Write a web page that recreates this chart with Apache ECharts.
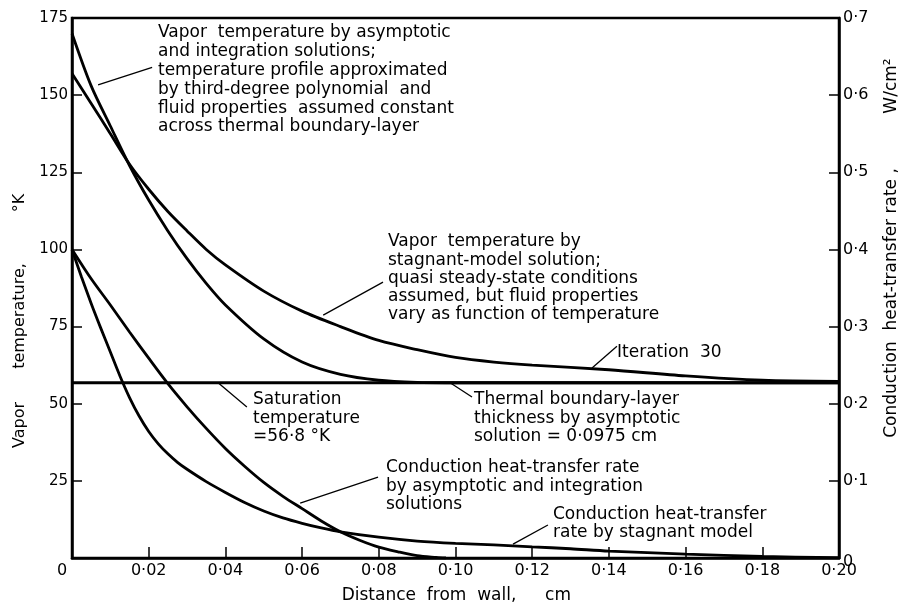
<!DOCTYPE html>
<html>
<head>
<meta charset="utf-8">
<script src="https://cdn.jsdelivr.net/npm/echarts/dist/echarts.min.js"></script>
<style>html,body{margin:0;padding:0;background:#fff}#c{width:901px;height:606px}</style>
</head>
<body>
<div id="c"></div>
<script>
// ---- data ----
// Vapor temperature, asymptotic & integration solutions (deg K)
const xA = [0,0.005,0.01,0.015,0.02,0.025,0.03,0.035,0.04,0.05,0.06,0.07,0.08,0.09,0.0975,0.2];
const tA = [170,153,140,127.2,116,106,97,89,82,71,63.5,59.5,57.6,56.9,56.8,56.8];
// Vapor temperature, stagnant-model solution (deg K)
const xB = [0,0.005,0.01,0.015,0.02,0.025,0.03,0.035,0.04,0.05,0.06,0.07,0.08,0.09,0.10,0.11,0.12,0.14,0.16,0.18,0.20];
const tB = [157,147.3,137.5,127.6,119.5,112.3,106,100,95,86.5,80,75,70.5,67.5,65,63.5,62.5,61.0,59.0,57.6,57.2];
// Saturation temperature
const xSat = [0,0.2];
const tSat = [56.8,56.8];
// Conduction heat-transfer rate, asymptotic & integration (W/cm2)
const xC = [0,0.005,0.01,0.015,0.02,0.025,0.03,0.035,0.04,0.045,0.05,0.055,0.06,0.065,0.07,0.075,0.08,0.085,0.09,0.095,0.0975];
const qC = [0.400,0.362,0.328,0.293,0.259,0.226,0.196,0.168,0.142,0.119,0.098,0.080,0.064,0.048,0.034,0.023,0.014,0.008,0.003,0.0008,0];
// Conduction heat-transfer rate, stagnant model (W/cm2)
const xD = [0,0.0025,0.005,0.0075,0.01,0.0125,0.015,0.0175,0.02,0.0225,0.025,0.0275,0.03,0.035,0.04,0.045,0.05,0.055,0.06,0.065,0.07,0.08,0.09,0.10,0.11,0.12,0.13,0.14,0.16,0.18,0.20];
const qD = [0.400,0.364,0.330,0.298,0.267,0.236,0.208,0.184,0.164,0.148,0.135,0.124,0.115,0.099,0.085,0.072,0.061,0.052,0.045,0.039,0.034,0.027,0.022,0.019,0.017,0.0145,0.012,0.009,0.005,0.002,0.0005];
// axis ticks
const xTicks = {min:0, max:0.2, interval:0.02};
const yLeftTicks = {min:0, max:175, interval:25};
const yRightTicks = {min:0, max:0.7, interval:0.1};

// annotation leader lines (data coords, left axis)
const leaders = [
  [[0.0209,159],[0.0068,153.3]],
  [[0.0811,89.4],[0.0655,78.7]],
  [[0.1421,68.6],[0.1356,61.6]],
  [[0.0456,48.9],[0.0381,56.8]],
  [[0.0986,56.8],[0.1043,52.2]],
  [[0.0798,26.2],[0.0595,17.8]],
  [[0.1241,10.7],[0.115,4.5]]
];

const zip = (xs, ys) => xs.map((x,i)=>[x, ys[i]]);
const FONT = 'DejaVu Sans';
const fmtDot = (v, d) => v.toFixed(d).replace('.', '\u00b7');

const curve = (data, yIdx) => ({
  type:'line', data, yAxisIndex:yIdx, symbol:'none', smooth:0.3,
  lineStyle:{color:'#000', width:2.8}, silent:true, z:3
});

const series = [
  curve(zip(xA,tA),0),
  curve(zip(xB,tB),0),
  Object.assign(curve(zip(xSat,tSat),0),{smooth:false}),
  curve(zip(xC,qC),1),
  curve(zip(xD,qD),1)
];
leaders.forEach(l => series.push({
  type:'line', data:l, yAxisIndex:0, symbol:'none', silent:true,
  lineStyle:{color:'#000', width:1.3}, z:2
}));

function txt(lines, x, y, lh, size) {
  size = size || 17;
  return lines.map((s,i)=>({
    type:'text', x:x, y:y + i*lh,
    style:{text:s, font:size+'px "' + FONT + '"', fill:'#000', textAlign:'left', textVerticalAlign:'middle'}
  }));
}
function rtxt(s, x, y, size) {
  return {type:'text', x:x, y:y, rotation:Math.PI/2,
    style:{text:s, font:size+'px "' + FONT + '"', fill:'#000', textAlign:'center', textVerticalAlign:'middle'}};
}
function htxt(s, x, y, size) {
  return {type:'text', x:x, y:y,
    style:{text:s, font:size+'px "' + FONT + '"', fill:'#000', textAlign:'center', textVerticalAlign:'middle'}};
}

const graphics = [].concat(
  txt(['Vapor  temperature by asymptotic','and integration solutions;','temperature profile approximated','by third-degree polynomial  and','fluid properties  assumed constant','across thermal boundary-layer'], 158, 33, 18.8),
  txt(['Vapor  temperature by','stagnant-model solution;','quasi steady-state conditions','assumed, but fluid properties','vary as function of temperature'], 388, 242, 18.2),
  txt(['Iteration  30'], 617, 353, 18),
  txt(['Saturation','temperature','=56\u00b78 \u00b0K'], 253, 400, 18.5),
  txt(['Thermal boundary-layer','thickness by asymptotic','solution = 0\u00b70975 cm'], 474, 400, 18.5),
  txt(['Conduction heat-transfer rate','by asymptotic and integration','solutions'], 386, 468, 18.5),
  txt(['Conduction heat-transfer','rate by stagnant model'], 553, 515, 17.5),
  [
    rtxt('Vapor', 20, 425, 16),
    rtxt('temperature,', 20, 316, 16),
    rtxt('\u00b0K', 20, 203, 16),
    rtxt('Conduction  heat-transfer rate ,', 892, 303, 17),
    rtxt('W/cm\u00b2', 892, 86, 17),
    htxt('Distance  from  wall,', 429, 596, 17),
    htxt('cm', 558, 596, 17)
  ]
);

const axisLine = {show:true, lineStyle:{color:'#000', width:2.5}};
const option = {
  animation:false,
  backgroundColor:'#fff',
  grid:{left:72, right:62, top:18, bottom:48, show:true, borderColor:'#000', borderWidth:2.5, backgroundColor:'transparent'},
  xAxis:{type:'value', min:xTicks.min, max:xTicks.max, interval:xTicks.interval,
    axisLine, splitLine:{show:false},
    axisTick:{show:true, inside:true, length:11, lineStyle:{color:'#000', width:1.5}},
    axisLabel:{color:'#000', fontFamily:FONT, fontSize:16, margin:5,
      formatter:v => v===0 ? '{z|0}' : fmtDot(v,2),
      rich:{z:{fontFamily:FONT, fontSize:16, color:'#000', padding:[0,20,0,0]}}}
  },
  yAxis:[
    {type:'value', min:yLeftTicks.min, max:yLeftTicks.max, interval:yLeftTicks.interval, position:'left',
      axisLine, splitLine:{show:false},
      axisTick:{show:true, inside:true, length:10, lineStyle:{color:'#000', width:1.5}},
      axisLabel:{color:'#000', fontFamily:FONT, fontSize:15, margin:4, formatter:v => v===0 ? '' : String(v)}},
    {type:'value', min:yRightTicks.min, max:yRightTicks.max, interval:yRightTicks.interval, position:'right',
      axisLine, splitLine:{show:false},
      axisTick:{show:true, inside:true, length:10, lineStyle:{color:'#000', width:1.5}},
      axisLabel:{color:'#000', fontFamily:FONT, fontSize:16, margin:4,
        formatter:v => v===0 ? '{z|0}' : fmtDot(v,1),
        rich:{z:{fontFamily:FONT, fontSize:16, color:'#000', padding:[8,0,0,0]}}}}
  ],
  series,
  graphic:graphics
};
const chart = echarts.init(document.getElementById('c'), null, {renderer:'canvas'});
chart.setOption(option);
</script>
</body>
</html>
